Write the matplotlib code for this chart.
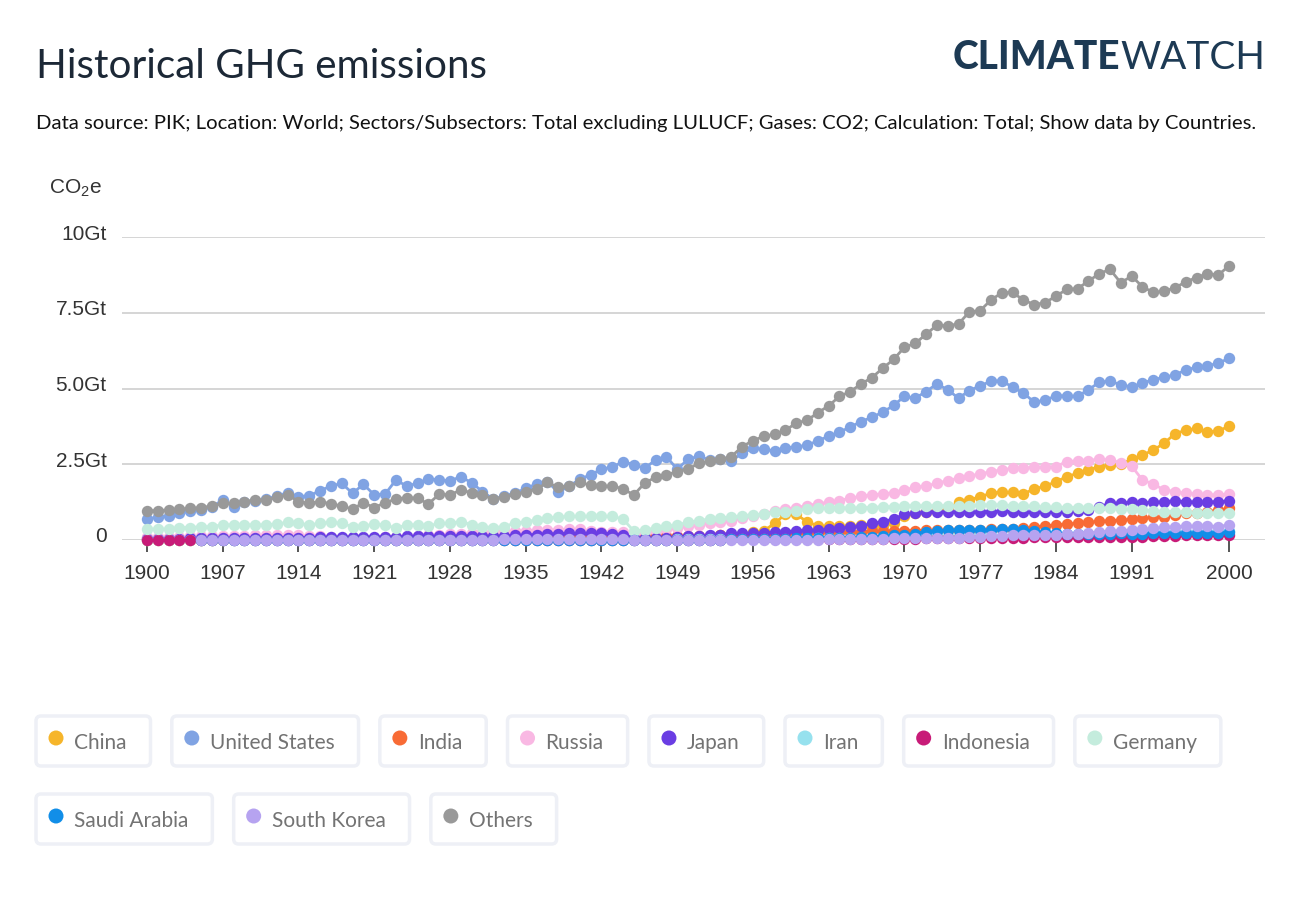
import numpy as np
import matplotlib
matplotlib.use("Agg")
import matplotlib.pyplot as plt
from matplotlib.patches import FancyBboxPatch, Circle
from matplotlib.transforms import IdentityTransform, ScaledTranslation

# ---------------- data ----------------
years = list(range(1900, 2001))

china = [0.01,0.01,0.01,0.01,0.01,0.01,0.01,0.01,0.02,0.02,
         0.02,0.02,0.02,0.02,0.02,0.02,0.02,0.02,0.02,0.02,
         0.03,0.03,0.03,0.03,0.03,0.03,0.03,0.03,0.03,0.03,
         0.04,0.04,0.04,0.04,0.04,0.05,0.05,0.05,0.05,0.06,
         0.07,0.07,0.07,0.07,0.06,0.05,0.05,0.06,0.06,0.07,
         0.08,0.10,0.13,0.15,0.17,0.20,0.25,0.30,0.55,0.85,
         0.85,0.60,0.47,0.45,0.45,0.46,0.50,0.44,0.46,0.55,
         0.80,0.88,0.92,0.95,0.98,1.27,1.33,1.42,1.55,1.58,
         1.57,1.53,1.68,1.78,1.92,2.09,2.20,2.31,2.42,2.48,
         2.51,2.66,2.80,2.97,3.19,3.51,3.62,3.68,3.57,3.59,
         3.76]

united_states = [0.70,0.75,0.80,0.88,0.95,1.00,1.10,1.32,1.10,1.25,
                 1.30,1.35,1.45,1.56,1.43,1.46,1.63,1.78,1.87,1.54,
                 1.84,1.49,1.51,1.98,1.78,1.87,2.02,1.98,1.95,2.09,
                 1.89,1.60,1.35,1.45,1.55,1.70,1.85,1.93,1.58,1.77,
                 2.01,2.15,2.34,2.40,2.59,2.48,2.37,2.64,2.75,2.34,
                 2.66,2.77,2.64,2.66,2.61,2.86,3.03,2.99,2.94,3.03,
                 3.08,3.12,3.28,3.42,3.56,3.73,3.91,4.05,4.22,4.44,
                 4.74,4.68,4.90,5.15,4.96,4.68,4.93,5.09,5.24,5.26,
                 5.04,4.85,4.55,4.61,4.76,4.76,4.74,4.96,5.20,5.25,
                 5.12,5.05,5.18,5.29,5.37,5.45,5.61,5.70,5.75,5.83,
                 6.00]

india = [0.05,0.05,0.05,0.05,0.05,0.06,0.06,0.06,0.06,0.06,
         0.07,0.07,0.07,0.07,0.07,0.07,0.07,0.08,0.08,0.07,
         0.08,0.08,0.08,0.08,0.08,0.09,0.09,0.09,0.09,0.10,
         0.10,0.10,0.10,0.10,0.10,0.11,0.11,0.11,0.12,0.12,
         0.12,0.12,0.12,0.12,0.12,0.12,0.12,0.12,0.13,0.13,
         0.13,0.14,0.14,0.15,0.16,0.17,0.18,0.19,0.20,0.21,
         0.22,0.23,0.24,0.25,0.26,0.27,0.28,0.29,0.30,0.31,
         0.31,0.31,0.32,0.32,0.32,0.33,0.34,0.34,0.35,0.36,
         0.37,0.38,0.44,0.46,0.50,0.53,0.55,0.58,0.62,0.64,
         0.66,0.68,0.71,0.75,0.77,0.82,0.88,0.90,0.94,0.98,
         1.05]

russia = [0.09,0.10,0.10,0.11,0.12,0.12,0.13,0.13,0.14,0.14,
          0.15,0.15,0.16,0.17,0.16,0.14,0.12,0.10,0.08,0.06,
          0.07,0.08,0.09,0.10,0.11,0.13,0.15,0.17,0.19,0.21,
          0.23,0.25,0.27,0.29,0.30,0.31,0.32,0.33,0.34,0.35,
          0.36,0.30,0.25,0.27,0.28,0.20,0.25,0.30,0.35,0.40,
          0.45,0.50,0.56,0.61,0.64,0.72,0.80,0.87,0.96,1.02,
          1.07,1.13,1.20,1.24,1.30,1.38,1.44,1.49,1.52,1.56,
          1.65,1.74,1.78,1.87,1.96,2.04,2.12,2.17,2.26,2.31,
          2.37,2.37,2.40,2.40,2.42,2.59,2.61,2.62,2.67,2.64,
          2.55,2.44,1.98,1.85,1.65,1.60,1.54,1.52,1.49,1.49,
          1.51]

japan = [0.03,0.03,0.04,0.04,0.05,0.05,0.05,0.06,0.06,0.07,
         0.07,0.07,0.08,0.08,0.08,0.08,0.09,0.10,0.10,0.10,
         0.10,0.10,0.11,0.11,0.12,0.12,0.12,0.13,0.13,0.14,
         0.14,0.13,0.13,0.14,0.15,0.17,0.18,0.20,0.21,0.22,
         0.22,0.22,0.22,0.21,0.18,0.08,0.05,0.06,0.08,0.10,
         0.12,0.14,0.15,0.18,0.22,0.22,0.22,0.24,0.25,0.27,
         0.31,0.33,0.33,0.35,0.39,0.42,0.46,0.55,0.61,0.69,
         0.85,0.88,0.91,0.94,0.91,0.94,0.91,0.94,0.94,0.95,
         0.94,0.92,0.91,0.91,0.92,0.93,0.95,1.00,1.10,1.21,
         1.23,1.24,1.23,1.24,1.27,1.29,1.27,1.25,1.25,1.27,
         1.29]

iran = [0.00,0.00,0.00,0.00,0.00,0.00,0.00,0.00,0.00,0.00,
        0.00,0.00,0.00,0.00,0.00,0.00,0.00,0.00,0.00,0.00,
        0.00,0.00,0.00,0.01,0.01,0.01,0.01,0.01,0.01,0.01,
        0.01,0.01,0.01,0.01,0.01,0.01,0.01,0.01,0.01,0.01,
        0.01,0.01,0.01,0.01,0.01,0.01,0.01,0.01,0.01,0.02,
        0.02,0.02,0.02,0.02,0.02,0.02,0.03,0.03,0.03,0.04,
        0.04,0.04,0.05,0.05,0.06,0.06,0.07,0.07,0.08,0.08,
        0.09,0.10,0.11,0.12,0.13,0.14,0.14,0.15,0.14,0.13,
        0.12,0.12,0.14,0.15,0.16,0.17,0.17,0.18,0.18,0.19,
        0.20,0.21,0.22,0.23,0.24,0.25,0.26,0.27,0.28,0.29,
        0.30]

indonesia = [0.00,0.00,0.00,0.00,0.00,0.00,0.00,0.00,0.00,0.00,
             0.00,0.00,0.01,0.01,0.01,0.01,0.01,0.01,0.01,0.01,
             0.01,0.01,0.01,0.01,0.01,0.01,0.01,0.01,0.01,0.01,
             0.01,0.01,0.01,0.01,0.01,0.01,0.01,0.01,0.01,0.01,
             0.01,0.01,0.01,0.01,0.01,0.00,0.01,0.01,0.01,0.01,
             0.01,0.01,0.01,0.01,0.02,0.02,0.02,0.02,0.02,0.02,
             0.03,0.03,0.03,0.03,0.03,0.03,0.03,0.03,0.03,0.04,
             0.04,0.04,0.05,0.05,0.05,0.06,0.06,0.07,0.07,0.08,
             0.08,0.08,0.09,0.09,0.09,0.10,0.10,0.10,0.11,0.11,
             0.11,0.11,0.11,0.12,0.13,0.14,0.15,0.16,0.17,0.17,
             0.18]

germany = [0.36,0.36,0.36,0.41,0.41,0.44,0.44,0.50,0.50,0.50,
           0.50,0.50,0.53,0.58,0.55,0.50,0.55,0.58,0.55,0.44,
           0.46,0.52,0.50,0.39,0.50,0.50,0.46,0.55,0.55,0.61,
           0.50,0.44,0.41,0.44,0.56,0.59,0.67,0.72,0.75,0.78,
           0.78,0.78,0.78,0.78,0.69,0.29,0.34,0.39,0.45,0.50,
           0.58,0.64,0.69,0.72,0.76,0.80,0.83,0.86,0.91,0.94,
           0.97,1.02,1.05,1.05,1.07,1.05,1.07,1.07,1.10,1.10,
           1.13,1.13,1.13,1.13,1.13,1.13,1.13,1.16,1.16,1.16,
           1.13,1.13,1.11,1.09,1.09,1.07,1.07,1.05,1.05,1.05,
           1.02,1.02,0.98,0.97,0.94,0.94,0.91,0.89,0.89,0.89,
           0.89]

saudi_arabia = [None,None,None,None,None,0.00,0.00,0.00,0.00,0.00,
                0.00,0.00,0.00,0.00,0.00,0.00,0.00,0.00,0.00,0.00,
                0.00,0.00,0.00,0.00,0.00,0.00,0.00,0.00,0.00,0.00,
                0.00,0.00,0.00,0.00,0.00,0.00,0.00,0.00,0.00,0.00,
                0.00,0.00,0.00,0.00,0.00,0.00,0.00,0.00,0.01,0.01,
                0.01,0.01,0.01,0.01,0.02,0.02,0.02,0.03,0.03,0.04,
                0.05,0.05,0.06,0.07,0.08,0.08,0.09,0.10,0.12,0.15,
                0.18,0.21,0.28,0.31,0.33,0.33,0.33,0.33,0.34,0.35,
                0.35,0.34,0.30,0.25,0.22,0.20,0.21,0.20,0.21,0.21,
                0.22,0.20,0.21,0.22,0.22,0.22,0.23,0.23,0.24,0.24,
                0.25]

south_korea = [None,None,None,None,None,0.00,0.00,0.00,0.00,0.00,
               0.00,0.00,0.00,0.00,0.00,0.01,0.01,0.01,0.01,0.01,
               0.01,0.01,0.01,0.01,0.01,0.01,0.01,0.01,0.01,0.01,
               0.01,0.01,0.01,0.02,0.02,0.02,0.02,0.02,0.02,0.02,
               0.02,0.02,0.02,0.02,0.02,0.01,0.01,0.01,0.01,0.01,
               0.01,0.01,0.01,0.01,0.01,0.01,0.01,0.01,0.01,0.01,
               0.01,0.01,0.01,0.02,0.02,0.02,0.03,0.03,0.04,0.05,
               0.05,0.06,0.06,0.07,0.07,0.08,0.09,0.11,0.12,0.14,
               0.15,0.15,0.16,0.17,0.18,0.19,0.21,0.23,0.27,0.29,
               0.31,0.33,0.35,0.38,0.42,0.44,0.46,0.46,0.47,0.44,
               0.50]

others = [0.97,0.97,0.99,1.01,1.05,1.07,1.12,1.21,1.21,1.27,
          1.32,1.32,1.41,1.49,1.27,1.21,1.27,1.19,1.12,1.02,
          1.23,1.07,1.23,1.35,1.40,1.38,1.19,1.51,1.49,1.65,
          1.56,1.47,1.36,1.41,1.51,1.58,1.68,1.90,1.74,1.79,
          1.90,1.81,1.77,1.79,1.68,1.49,1.88,2.07,2.15,2.26,
          2.34,2.53,2.61,2.66,2.75,3.08,3.28,3.42,3.49,3.62,
          3.86,3.95,4.20,4.43,4.74,4.90,5.15,5.36,5.67,5.96,
          6.36,6.49,6.79,7.09,7.07,7.13,7.53,7.57,7.92,8.16,
          8.17,7.92,7.77,7.83,8.05,8.27,8.30,8.54,8.79,8.93,
          8.49,8.71,8.36,8.17,8.21,8.32,8.52,8.66,8.79,8.74,
          9.05]

series_names = ["China", "United States", "India", "Russia", "Japan", "Iran",
                "Indonesia", "Germany", "Saudi Arabia", "South Korea", "Others"]
series_values = [china, united_states, india, russia, japan, iran,
                 indonesia, germany, saudi_arabia, south_korea, others]
series_colors = ["#f6b52a", "#80a3e3", "#f86b35", "#f9b8e3", "#6a3de3", "#96e1ee",
                 "#c81b78", "#c4ecdd", "#118ee8", "#b6a3f0", "#999999"]

x_ticks = [1900, 1907, 1914, 1921, 1928, 1935, 1942, 1949, 1956, 1963, 1970,
           1977, 1984, 1991, 2000]
y_ticks = [0, 2.5, 5, 7.5, 10]
y_tick_labels = ["0", "2.5Gt", "5.0Gt", "7.5Gt", "10Gt"]

title = "Historical GHG emissions"
subtitle = ("Data source: PIK; Location: World; Sectors/Subsectors: Total excluding LULUCF; "
            "Gases: CO2; Calculation: Total; Show data by Countries.")

# ---------------- figure ----------------
W, H = 1299, 906
plt.rcParams['font.family'] = ['Liberation Sans', 'DejaVu Sans']
plt.rcParams['mathtext.fontset'] = 'custom'
plt.rcParams['mathtext.rm'] = 'Liberation Sans'
plt.rcParams['mathtext.it'] = 'Liberation Sans'

fig = plt.figure(figsize=(W / 100, H / 100), dpi=100)
fig.patch.set_facecolor('white')
renderer = fig.canvas.get_renderer()


def fx(x):
    return x / W


def fy(y):
    return 1 - y / H


def fit_width(t, target):
    for _ in range(3):
        bb = t.get_window_extent(renderer)
        t.set_fontsize(t.get_fontsize() * target / bb.width)


# axes
ax_left, ax_right, ax_top, ax_bot = 122, 1265, 237, 540
ax = fig.add_axes([fx(ax_left), fy(ax_bot), (ax_right - ax_left) / W, (ax_bot - ax_top) / H])
ppy = (1229 - 147) / 100.0
ax.set_xlim(1900 - (147 - ax_left) / ppy, 2000 + (ax_right - 1229) / ppy)
ax.set_ylim(0, 10)
for s in ax.spines.values():
    s.set_visible(False)
ax.set_facecolor('none')

for yv in y_ticks:
    ax.axhline(yv, color='#d2d2d2', lw=1.3, zorder=0)

for name, vals, col in zip(series_names, series_values, series_colors):
    arr = np.array([np.nan if v is None else v for v in vals], dtype=float)
    ax.plot(years, arr, '-o', color=col, lw=2.0, ms=8.2, mew=0, clip_on=False, zorder=2)

ax.set_xticks(x_ticks)
ax.set_xticklabels([str(t) for t in x_ticks])
ax.tick_params(axis='x', direction='out', length=8.5, width=1.4, color='#555555',
               labelsize=15, labelcolor='#333333', pad=9)
ax.set_yticks(y_ticks)
ax.set_yticklabels(y_tick_labels)
ax.tick_params(axis='y', length=0, labelsize=15, labelcolor='#333333', pad=11)
off = ScaledTranslation(0, 0.05, fig.dpi_scale_trans)
for lbl in ax.get_yticklabels():
    lbl.set_transform(lbl.get_transform() + off)

# CO2e unit label
fig.text(fx(49), fy(188), r'CO$_2$e', fontsize=15, color='#333333', ha='left', va='center')

# title
t_title = fig.text(fx(36), fy(78), title, fontfamily='Lato', fontweight='normal',
                   fontsize=30, color='#1c2836', ha='left', va='baseline')
fit_width(t_title, 451)

# subtitle
t_sub = fig.text(fx(36), fy(123), subtitle, fontfamily='Lato', fontsize=13.5,
                 color='#111111', ha='left', va='center')
fit_width(t_sub, 1227)

# logo
logo_color = '#1d3a54'
t_watch = fig.text(fx(1265), fy(69), "WATCH", fontfamily='Lato', fontweight='normal',
                   fontsize=26, color=logo_color, ha='right', va='baseline')
t_clim = fig.text(fx(1265), fy(69), "CLIMATE", fontfamily='Lato', fontweight='black',
                  fontsize=26, color=logo_color, ha='right', va='baseline')
for _ in range(3):
    ww = t_watch.get_window_extent(renderer).width
    wc = t_clim.get_window_extent(renderer).width
    sc = (1265 - 952) / (ww + wc)
    t_watch.set_fontsize(t_watch.get_fontsize() * sc)
    t_clim.set_fontsize(t_clim.get_fontsize() * sc)
ww = t_watch.get_window_extent(renderer).width
t_clim.set_position((fx(1265 - ww), fy(69)))

# legend chips
rows = [(741, series_names[:8], series_colors[:8]), (819, series_names[8:], series_colors[8:])]
for yc, names, cols in rows:
    x = 36
    for name, col in zip(names, cols):
        tt = fig.text(fx(x + 38), fy(yc + 2), name, fontfamily='Lato', fontsize=15,
                      color='#737373', ha='left', va='center', zorder=3)
        tw = tt.get_window_extent(renderer).width
        wchip = 38 + tw + 24
        chip = FancyBboxPatch((x, H - yc - 25), wchip, 50,
                              boxstyle='round,pad=0,rounding_size=5',
                              fc='white', ec='#eef0f6', lw=2.5,
                              transform=IdentityTransform(), zorder=1)
        fig.patches.append(chip)
        circ = Circle((x + 20, H - yc + 3), 7.5, fc=col, ec='none',
                      transform=IdentityTransform(), zorder=2)
        fig.patches.append(circ)
        x = x + wchip + 21.3

fig.savefig('out.png', dpi=100, facecolor='white')
